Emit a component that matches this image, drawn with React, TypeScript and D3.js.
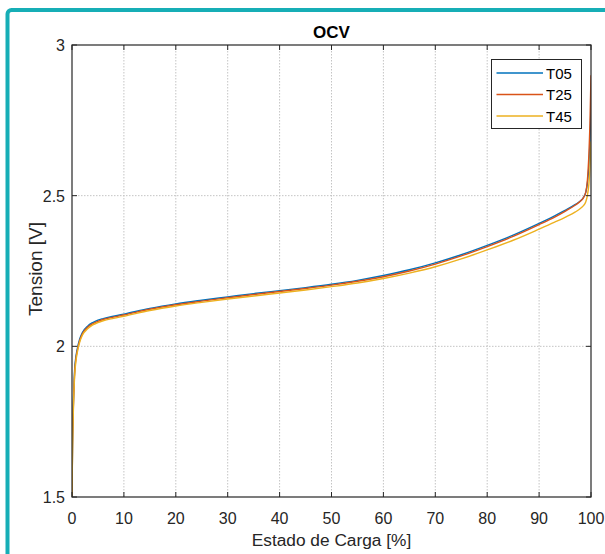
import React from "react";
import * as d3 from "d3";

const soc = [0, 0.1, 0.25, 0.5, 0.75, 1, 1.5, 2, 3, 4, 5, 6, 8, 10, 15, 20, 25, 30, 35, 40, 45, 50, 55, 60, 65, 70, 75, 80, 85, 90, 93, 95, 97, 98, 98.5, 99, 99.3, 99.6, 99.8, 100];
const t05 = [1.5, 1.68, 1.8, 1.92, 1.965, 1.99, 2.025, 2.046, 2.067, 2.079, 2.087, 2.092, 2.1, 2.107, 2.126, 2.141, 2.153, 2.164, 2.175, 2.185, 2.195, 2.206, 2.219, 2.235, 2.254, 2.277, 2.304, 2.335, 2.369, 2.408, 2.433, 2.451, 2.471, 2.483, 2.493, 2.512, 2.54, 2.6, 2.68, 2.8];
const t25 = [1.5, 1.67, 1.79, 1.91, 1.958, 1.984, 2.02, 2.042, 2.063, 2.075, 2.083, 2.089, 2.097, 2.104, 2.123, 2.138, 2.15, 2.161, 2.172, 2.182, 2.192, 2.203, 2.216, 2.231, 2.25, 2.273, 2.3, 2.331, 2.365, 2.404, 2.429, 2.448, 2.469, 2.482, 2.492, 2.512, 2.55, 2.64, 2.74, 2.9];
const t45 = [1.5, 1.66, 1.78, 1.9, 1.95, 1.978, 2.015, 2.037, 2.058, 2.071, 2.079, 2.085, 2.093, 2.1, 2.119, 2.134, 2.146, 2.157, 2.167, 2.177, 2.187, 2.198, 2.21, 2.225, 2.243, 2.264, 2.29, 2.32, 2.352, 2.389, 2.412, 2.428, 2.446, 2.458, 2.466, 2.48, 2.5, 2.54, 2.59, 2.68];

const seriesNames = ["T05", "T25", "T45"];
const seriesValues = [t05, t25, t45];
const seriesColors = ["#0072BD", "#D95319", "#EDB120"];

const xTicks = [0, 10, 20, 30, 40, 50, 60, 70, 80, 90, 100];
const yTicks = [1.5, 2, 2.5, 3];

const FONT = "'Liberation Sans', Arial, Helvetica, sans-serif";

export default function App() {
  const W = 605, H = 554;
  const left = 72, right = 591, top = 45, bottom = 497;
  const x = d3.scaleLinear().domain([0, 100]).range([left, right]);
  const y = d3.scaleLinear().domain([1.5, 3]).range([bottom, top]);
  const line = d3
    .line<number>()
    .x((_, i) => x(soc[i]))
    .y((d) => y(d))
    .curve(d3.curveMonotoneX);

  const tickLen = 5;
  return (
    <svg
      width={W}
      height={H}
      style={{ position: "absolute", left: 0, top: 0, background: "#fff" }}
      fontFamily={FONT}
    >
      {/* teal frame */}
      <rect x={7.5} y={10} width={620} height={600} rx={4} fill="none" stroke="#16AEB6" strokeWidth={4} />

      {/* grid */}
      {xTicks.slice(1, -1).map((t) => (
        <line key={"gx" + t} x1={x(t)} x2={x(t)} y1={top} y2={bottom} stroke="#c4c4c4" strokeWidth={1} strokeDasharray="1.5,1.5" />
      ))}
      {yTicks.slice(1, -1).map((t) => (
        <line key={"gy" + t} x1={left} x2={right} y1={y(t)} y2={y(t)} stroke="#c4c4c4" strokeWidth={1} strokeDasharray="1.5,1.5" />
      ))}

      {/* curves */}
      <defs>
        <clipPath id="clip">
          <rect x={left} y={top} width={right - left} height={bottom - top} />
        </clipPath>
      </defs>
      <g clipPath="url(#clip)">
        {seriesValues.map((vals, i) => (
          <path key={seriesNames[i]} d={line(vals) || ""} fill="none" stroke={seriesColors[i]} strokeWidth={1.4} />
        ))}
      </g>

      {/* axes box */}
      <rect x={left} y={top} width={right - left} height={bottom - top} fill="none" stroke="#262626" strokeWidth={1.2} />

      {/* ticks */}
      {xTicks.map((t) => (
        <g key={"tx" + t}>
          <line x1={x(t)} x2={x(t)} y1={bottom} y2={bottom - tickLen} stroke="#262626" />
          <line x1={x(t)} x2={x(t)} y1={top} y2={top + tickLen} stroke="#262626" />
          <text x={x(t)} y={524} textAnchor="middle" fontSize={16} fill="#262626">
            {t}
          </text>
        </g>
      ))}
      {yTicks.map((t) => (
        <g key={"ty" + t}>
          <line x1={left} x2={left + tickLen} y1={y(t)} y2={y(t)} stroke="#262626" />
          <line x1={right} x2={right - tickLen} y1={y(t)} y2={y(t)} stroke="#262626" />
          <text x={65} y={y(t) + 6} textAnchor="end" fontSize={16} fill="#262626">
            {t}
          </text>
        </g>
      ))}

      {/* labels */}
      <text x={(left + right) / 2} y={38} textAnchor="middle" fontSize={17} fontWeight="bold" fill="#000">
        OCV
      </text>
      <text x={(left + right) / 2} y={546} textAnchor="middle" fontSize={17.3} fill="#262626">
        Estado de Carga [%]
      </text>
      <text
        transform={`translate(42, 269) rotate(-90)`}
        textAnchor="middle"
        fontSize={19}
        fill="#262626"
      >
        Tension [V]
      </text>

      {/* legend */}
      <rect x={491.5} y={59.5} width={90} height={69} fill="#fff" stroke="#262626" strokeWidth={1} />
      {seriesNames.map((n, i) => {
        const ly = 73 + i * 21.5;
        return (
          <g key={"lg" + n}>
            <line x1={496.5} x2={543} y1={ly} y2={ly} stroke={seriesColors[i]} strokeWidth={1.4} />
            <text x={546} y={ly + 5.5} fontSize={15} fill="#000">
              {n}
            </text>
          </g>
        );
      })}
    </svg>
  );
}
